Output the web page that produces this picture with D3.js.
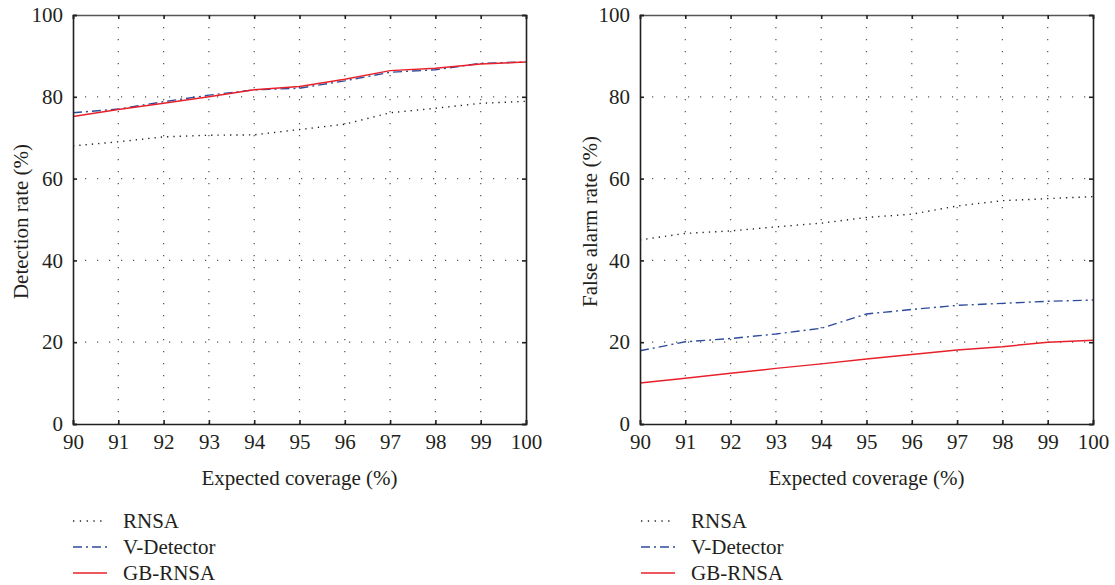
<!DOCTYPE html>
<html>
<head>
<meta charset="utf-8">
<script src="https://cdn.jsdelivr.net/npm/d3@7"></script>
<style>
  html, body { margin: 0; padding: 0; background: #fff; }
  svg text { font-family: 'Liberation Serif', serif; fill: #231f20; }
</style>
</head>
<body>
<div id="chart"></div>
<script>
const coverage = [90, 91, 92, 93, 94, 95, 96, 97, 98, 99, 100];
const yTicks = [0, 20, 40, 60, 80, 100];

const detRNSA = [68.0, 69.0, 70.2, 70.6, 70.7, 72.0, 73.3, 76.1, 77.2, 78.4, 78.9];
const detVDetector = [76.1, 77.0, 78.8, 80.4, 81.7, 82.1, 83.9, 86.0, 86.6, 88.2, 88.5];
const detGBRNSA = [75.2, 76.9, 78.4, 80.0, 81.7, 82.5, 84.3, 86.4, 87.0, 88.0, 88.5];

const farRNSA = [45.0, 46.6, 47.2, 48.2, 49.1, 50.5, 51.3, 53.3, 54.6, 55.1, 55.6];
const farVDetector = [17.9, 20.1, 20.9, 22.0, 23.4, 26.9, 28.0, 29.0, 29.5, 30.0, 30.3];
const farGBRNSA = [10.0, 11.2, 12.4, 13.6, 14.7, 15.9, 17.0, 18.1, 18.9, 20.0, 20.5];

const seriesNames = ['RNSA', 'V-Detector', 'GB-RNSA'];

// line styles per series
const STYLES = {
  'RNSA': { stroke: '#231f20', width: 1.4, dash: '1.3,5' },
  'V-Detector': { stroke: '#2e4c9c', width: 1.4, dash: '9,4,2,4' },
  'GB-RNSA': { stroke: '#e8202a', width: 1.5, dash: null },
};

const FONT = 21;
const W = 1115;
const H = 585;
const svg = d3.select('#chart').append('svg').attr('width', W).attr('height', H);

const panels = [
  { left: 73, right: 526, yLabel: 'Detection rate (%)', yLabelX: 21, legendX: 73,
    values: [detRNSA, detVDetector, detGBRNSA] },
  { left: 640, right: 1093, yLabel: 'False alarm rate (%)', yLabelX: 590, legendX: 641,
    values: [farRNSA, farVDetector, farGBRNSA] },
];

const plotTop = 15;
const plotBottom = 424;

panels.forEach((p) => {
  const x = d3.scaleLinear().domain([90, 100]).range([p.left, p.right]);
  const y = d3.scaleLinear().domain([0, 100]).range([plotBottom, plotTop]);
  const g = svg.append('g');

  // dotted grid
  g.selectAll('.vgrid')
    .data(coverage.slice(1, -1))
    .join('line')
    .attr('x1', (d) => x(d)).attr('x2', (d) => x(d))
    .attr('y1', plotTop).attr('y2', plotBottom)
    .attr('stroke', '#555').attr('stroke-width', 1.2)
    .attr('stroke-dasharray', '1.2,10.8');
  g.selectAll('.hgrid')
    .data(yTicks.slice(1, -1))
    .join('line')
    .attr('x1', p.left).attr('x2', p.right)
    .attr('y1', (d) => y(d)).attr('y2', (d) => y(d))
    .attr('stroke', '#555').attr('stroke-width', 1.2)
    .attr('stroke-dasharray', '1.2,10.8');

  // series lines
  seriesNames.forEach((name, i) => {
    const st = STYLES[name];
    const line = d3.line().x((d, j) => x(coverage[j])).y((d) => y(d));
    g.append('path')
      .datum(p.values[i])
      .attr('d', line)
      .attr('fill', 'none')
      .attr('stroke', st.stroke)
      .attr('stroke-width', st.width)
      .attr('stroke-dasharray', st.dash);
  });

  // axes with inner ticks
  const xAxis = d3.axisBottom(x).tickValues(coverage).tickSize(-4).tickPadding(10).tickFormat(d3.format('d'));
  const xTop = d3.axisTop(x).tickValues(coverage).tickSize(-4).tickFormat('');
  const yAxis = d3.axisLeft(y).tickValues(yTicks).tickSize(-4).tickPadding(10);
  const yRight = d3.axisRight(y).tickValues(yTicks).tickSize(-4).tickFormat('');

  const ax = [
    g.append('g').attr('transform', `translate(0,${plotBottom})`).call(xAxis),
    g.append('g').attr('transform', `translate(0,${plotTop})`).call(xTop),
    g.append('g').attr('transform', `translate(${p.left},0)`).call(yAxis),
    g.append('g').attr('transform', `translate(${p.right},0)`).call(yRight),
  ];
  ax.forEach((a) => {
    a.attr('font-family', null).attr('font-size', null);
    a.select('.domain').attr('stroke', '#231f20').attr('stroke-width', 1.6);
    a.selectAll('.tick line').attr('stroke', '#231f20').attr('stroke-width', 1.6);
    a.selectAll('.tick text')
      .attr('font-size', FONT)
      .attr('fill', '#231f20');
  });
  ax[1].select('.domain').attr('stroke', '#555');

  // axis titles
  g.append('text')
    .attr('x', (p.left + p.right) / 2)
    .attr('y', 485)
    .attr('text-anchor', 'middle')
    .attr('font-size', FONT)
    .text('Expected coverage (%)');
  g.append('text')
    .attr('transform', `translate(${p.yLabelX + 7},${(plotTop + plotBottom) / 2 + 2}) rotate(-90)`)
    .attr('text-anchor', 'middle')
    .attr('font-size', FONT)
    .text(p.yLabel);

  // legend
  const legend = g.append('g').attr('transform', `translate(${p.legendX},521)`);
  seriesNames.forEach((name, i) => {
    const st = STYLES[name];
    const row = legend.append('g').attr('transform', `translate(0,${i * 26})`);
    row.append('line')
      .attr('x1', 0).attr('x2', 34)
      .attr('y1', 0).attr('y2', 0)
      .attr('stroke', st.stroke)
      .attr('stroke-width', st.width)
      .attr('stroke-dasharray', name === 'RNSA' ? '1.3,5.5' : st.dash);
    row.append('text')
      .attr('x', 50)
      .attr('y', 0)
      .attr('dy', '0.35em')
      .attr('font-size', FONT)
      .text(name);
  });
});
</script>
</body>
</html>
